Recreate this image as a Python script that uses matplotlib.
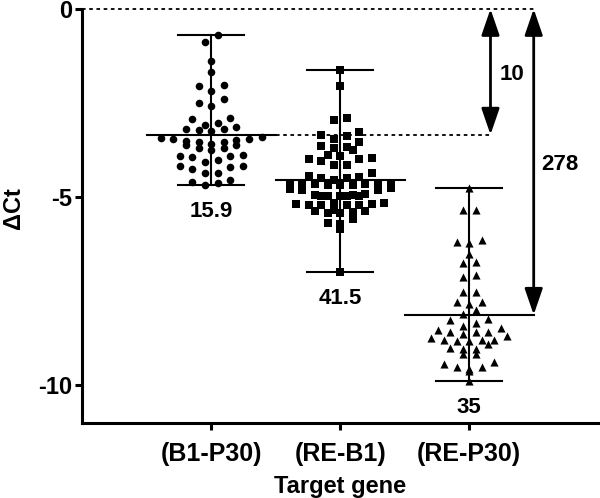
import numpy as np
import matplotlib
matplotlib.use('Agg')
import matplotlib.pyplot as plt

plt.rcParams['font.family'] = ['Liberation Sans', 'DejaVu Sans']
plt.rcParams['font.weight'] = 'bold'
plt.rcParams['axes.unicode_minus'] = False

# delta Ct values
b1_p30 = [-0.68, -0.89, -1.38, -1.67, -2.02, -2.04, -2.19, -2.50, -2.40, -2.59,
          -2.93, -2.91, -3.04, -3.09, -3.25, -3.20, -3.23, -3.20, -3.14,
          -3.44, -3.46, -3.50, -3.53, -3.59, -3.53, -3.48, -3.45, -3.39,
          -3.61, -3.69, -3.75, -3.69, -3.62, -3.91, -3.93, -3.91, -3.88,
          -4.01, -4.07, -4.17, -4.19, -4.25, -4.17, -4.37, -4.35,
          -4.59, -4.68, -4.62, -4.55]
re_b1 = [-1.61, -2.06, -2.89, -2.95, -3.28, -3.35, -3.37, -3.46,
         -3.53, -3.63, -3.66, -3.69, -3.75,
         -3.88, -3.90, -3.97, -4.00, -4.00, -4.04, -4.15, -4.15, -4.37,
         -4.44, -4.48, -4.48, -4.46, -4.55,
         -4.64, -4.66, -4.67, -4.65, -4.66, -4.68, -4.67, -4.66, -4.65,
         -4.77, -4.80, -4.82, -4.79,
         -4.94, -4.96, -4.97, -4.95, -4.98, -4.96, -4.97, -4.92,
         -5.15, -5.20, -5.22, -5.17, -5.19, -5.18, -5.21, -5.20,
         -5.35, -5.38, -5.40, -5.37, -5.43, -5.43,
         -5.59, -5.72, -5.70, -5.85, -6.99]
re_p30 = [-4.75, -5.34, -5.34, -6.19, -6.23, -6.13, -6.50, -6.75, -6.72,
          -7.08, -7.12, -7.52, -7.52, -7.79, -7.83, -7.79, -8.01, -8.10,
          -8.23, -8.35, -8.43, -8.47, -8.27,
          -8.59, -8.70, -8.59, -8.54, -8.65, -8.59,
          -8.83, -8.79, -8.79, -8.83, -8.79, -8.74, -8.91,
          -9.00, -9.05, -9.18, -9.16, -9.05, -9.38, -9.45,
          -9.52, -9.58, -9.52, -9.62, -9.88]

groups = [b1_p30, re_b1, re_p30]
tick_labels = ['(B1-P30)', '(RE-B1)', '(RE-P30)']
markers = ['o', 's', '^']
fold_labels = ['15.9', '41.5', '35']
arrow_labels = ['10', '278']


def column_scatter(vals, step=0.098, row_h=0.2, max_n=9):
    # group values into rows (at most max_n wide), spread each row around the centre
    vals = np.asarray(vals)
    offs = np.zeros(len(vals))
    rows = []
    for i in np.argsort(vals)[::-1]:
        if rows and rows[-1][0] - vals[i] <= row_h and len(rows[-1][1]) < max_n:
            rows[-1][1].append(i)
        else:
            rows.append((vals[i], [i]))
    for _, members in rows:
        n = len(members)
        pos = (np.arange(n) - (n - 1) / 2) * step
        pos = pos[np.argsort(np.abs(pos), kind='stable')]
        # lowest value in the middle, higher ones outwards
        members = sorted(members, key=lambda j: vals[j])
        for j, p in zip(members, pos):
            offs[j] = p
    return offs


fig = plt.figure(figsize=(6, 4.98), dpi=100)
ax = fig.add_axes([0.137, 0.151, 0.86, 0.831])

row_heights = [0.215, 0.2, 0.2]
means = []
for i, vals in enumerate(groups):
    x0 = i + 1
    vals = np.asarray(vals)
    m = vals.mean()
    means.append(m)
    ax.scatter(x0 + column_scatter(vals, row_h=row_heights[i]), vals,
               marker=markers[i], s=30 if i < 2 else 34, color='black',
               linewidths=0, zorder=3)
    ax.plot([x0, x0], [vals.min(), vals.max()], color='black', lw=1.5, zorder=2)
    for y in (vals.min(), vals.max()):
        ax.plot([x0 - 0.255, x0 + 0.255], [y, y], color='black', lw=1.5)
    ax.plot([x0 - 0.5, x0 + 0.5], [m, m], color='black', lw=1.5)
    ax.text(x0, vals.min() - 0.7, fold_labels[i], ha='center', va='center',
            fontsize=16, fontweight='bold')

# dotted reference lines
ax.plot([0, 3.5], [0, 0], color='black', lw=1.3, ls=(0, (2, 2)), clip_on=False)
ax.plot([1.5, 3.165], [means[0], means[0]], color='black', lw=1.3, ls=(0, (2, 2)))

# double arrows
astyle = dict(arrowstyle='<|-|>,head_length=1.6,head_width=0.55',
              mutation_scale=10, color='black', lw=2, shrinkA=0, shrinkB=0)
ax.annotate('', xy=(3.165, 0), xytext=(3.165, means[0]), arrowprops=astyle,
            annotation_clip=False)
ax.annotate('', xy=(3.5, 0), xytext=(3.5, means[2]), arrowprops=astyle,
            annotation_clip=False)
ax.text(3.33, -1.75, arrow_labels[0], ha='center', va='center', fontsize=16,
        fontweight='bold')
ax.text(3.705, -4.14, arrow_labels[1], ha='center', va='center', fontsize=16,
        fontweight='bold')

ax.set_xlim(0, 4)
ax.set_ylim(-11, 0)
ax.set_xticks([1, 2, 3])
ax.set_xticklabels(tick_labels)
ax.set_yticks([0, -5, -10])
ax.set_yticklabels(['0', '-5', '-10'])
ax.tick_params(axis='both', labelsize=17, width=2.2, length=5)
ax.tick_params(axis='y', pad=2)
ax.tick_params(axis='x', pad=9, labelsize=18)
for s in ['top', 'right']:
    ax.spines[s].set_visible(False)
for s in ['left', 'bottom']:
    ax.spines[s].set_linewidth(2.2)
ax.set_xlabel('Target gene', fontsize=17, fontweight='bold', labelpad=6)
ax.set_ylabel('\u0394Ct', fontsize=17, fontweight='bold')
ax.yaxis.set_label_coords(-0.11, 0.52)

fig.savefig('out.png', dpi=100)
